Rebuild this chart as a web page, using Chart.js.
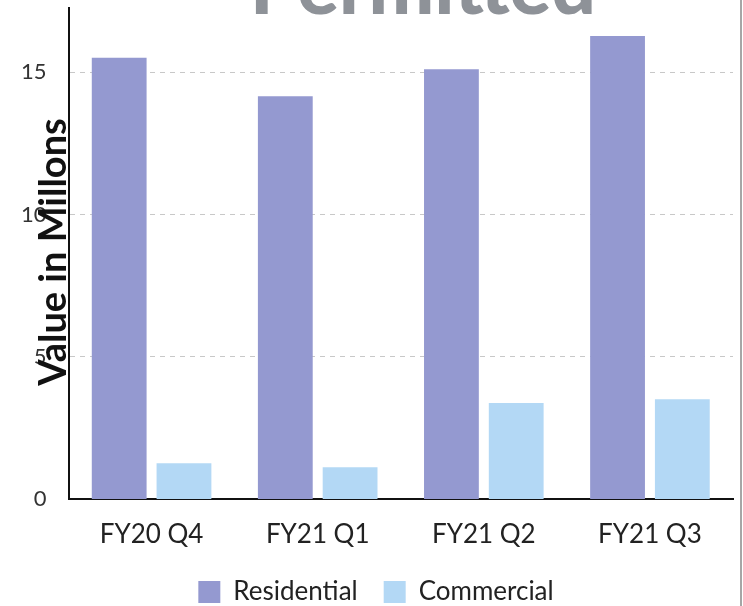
<!DOCTYPE html>
<html>
<head>
<meta charset="utf-8">
<script src="https://cdn.jsdelivr.net/npm/chart.js@4.4.1/dist/chart.umd.min.js"></script>
<style>
  html, body { margin: 0; padding: 0; background: #ffffff; }
  #wrap { position: relative; width: 743px; height: 606px; overflow: hidden; background: #fff; }
  #c { position: absolute; left: 0; top: 0; }
  #title { position: absolute; left: 123px; width: 600px; top: -55px; text-align: center;
           font-family: Lato, sans-serif; font-weight: 900; font-size: 78px; line-height: 78px; color: #8e9298; white-space: nowrap; }
  #ytitle { position: absolute; width: 320px; height: 38px; left: -109px; top: 233px; text-align: center;
            font-family: Lato, sans-serif; font-weight: 700; font-size: 38px; line-height: 38px; color: #111;
            transform: rotate(-90deg); white-space: nowrap; }
  #edge { position: absolute; left: 740px; top: 0; width: 2px; height: 606px; background: #6b6b6b; opacity: 0.6; }
</style>
</head>
<body>
<div id="wrap">
  <canvas id="c" width="743" height="606"></canvas>
  <div id="title">Permitted</div>
  <div id="ytitle">Value in Millons</div>
  <div id="edge"></div>
</div>
<script>
const categories = ['FY20 Q4', 'FY21 Q1', 'FY21 Q2', 'FY21 Q3'];
const residential = [15.5, 14.15, 15.1, 16.27];
const commercial = [1.27, 1.13, 3.38, 3.52];
const yTicks = [0, 5, 10, 15];
const yMax = 17.25;

new Chart(document.getElementById('c'), {
  type: 'bar',
  data: {
    labels: categories,
    datasets: [
      { label: 'Residential', data: residential, backgroundColor: '#9499d0' },
      { label: 'Commercial', data: commercial, backgroundColor: '#b3d8f5' }
    ]
  },
  options: {
    responsive: false,
    animation: false,
    devicePixelRatio: 1,
    layout: { padding: { left: 19, right: 10, top: 8, bottom: -9 } },
    categoryPercentage: 0.78,
    barPercentage: 0.846,
    plugins: {
      title: { display: false },
      tooltip: { enabled: false },
      legend: {
        position: 'bottom',
        labels: {
          boxWidth: 22, boxHeight: 22, padding: 26,
          color: '#222',
          font: { family: 'Lato', size: 26 }
        }
      }
    },
    scales: {
      x: {
        grid: { display: false, drawTicks: false },
        border: { color: '#111', width: 2 },
        ticks: { color: '#222', font: { family: 'Lato', size: 26, lineHeight: 0.1 }, padding: 33.7 },
        afterFit: (s) => { s.height -= 16.4; }
      },
      y: {
        min: 0, max: yMax,
        afterBuildTicks: (s) => { s.ticks = yTicks.map(v => ({ value: v })); },
        grid: {
          drawTicks: true,
          tickLength: 20,
          tickColor: 'rgba(0,0,0,0)',
          color: (ctx) => (ctx.tick && ctx.tick.value === 0) ? 'rgba(0,0,0,0)' : '#c8c8c8',
          lineWidth: 1
        },
        border: { color: '#111', width: 2, dash: [5, 5] },
        ticks: { color: '#333', font: { family: 'Lato', size: 22, lineHeight: 0.5 }, padding: 2 }
      }
    }
  }
});
</script>
</body>
</html>
